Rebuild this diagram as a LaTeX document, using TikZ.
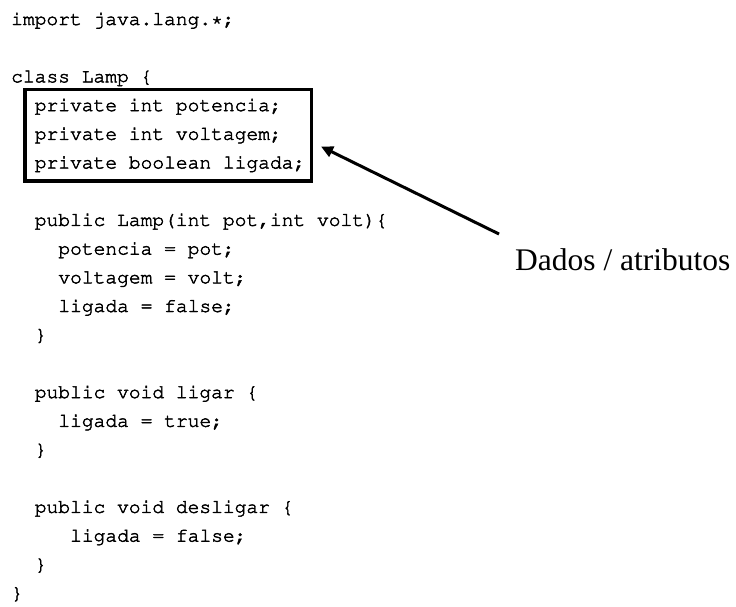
\documentclass[tikz,border=0pt]{standalone}
\usepackage[T1]{fontenc}
\usepackage{fontspec}
\setmainfont{Liberation Serif}
\usetikzlibrary{arrows.meta}
\newcommand{\cwfont}{\fontencoding{T1}\fontfamily{pcr}\fontseries{m}\fontshape{n}\fontsize{19.6}{22}\selectfont}
\newcommand{\thicktext}[1]{\special{pdf:literal direct 2 Tr 0.45 w}#1\special{pdf:literal direct 0 Tr}}
\tikzset{
  code/.style={anchor=base west, inner sep=0pt, font=\cwfont},
  lbl/.style={anchor=base west, inner sep=0pt, font=\fontsize{31.5}{36}\selectfont},
  frame/.style={draw=black, line width=3.6pt},
  pointer/.style={draw=black, line width=3pt, -{Triangle[length=12pt,width=11pt]}}
}
\begin{document}
\begin{tikzpicture}[x=1pt,y=-1pt]
\useasboundingbox (0,0) rectangle (736,606);
\def\lh{28.7}
\def\cw{11.79}
\def\ox{11}
\newcommand{\codeline}[4]{\node[code] (#1) at ({\ox+#2*\cw},{25+#3*\lh}) {\thicktext{#4}};}
\codeline{l0}{0}{0}{import java.lang.*;}
\codeline{l2}{0}{2}{class Lamp \{}
\codeline{l3}{2}{3}{private int potencia;}
\codeline{l4}{2}{4}{private int voltagem;}
\codeline{l5}{2}{5}{private boolean ligada;}
\codeline{l7}{2}{7}{public Lamp(int pot,int volt)\{}
\codeline{l8}{4}{8}{potencia = pot;}
\codeline{l9}{4}{9}{voltagem = volt;}
\codeline{l10}{4}{10}{ligada = false;}
\codeline{l11}{2}{11}{\}}
\codeline{l13}{2}{13}{public void ligar \{}
\codeline{l14}{4}{14}{ligada = true;}
\codeline{l15}{2}{15}{\}}
\codeline{l17}{2}{17}{public void desligar \{}
\codeline{l18}{5}{18}{ligada = false;}
\codeline{l19}{2}{19}{\}}
\codeline{l20}{0}{20}{\}}
% box around attributes
\node[frame, inner sep=0pt, minimum width=286.5pt, minimum height=91.5pt] (attrs) at (168.25,135.25) {};
% label
\node[lbl] (dados) at (515,270) {Dados / atributos};
\coordinate (tail) at (499,234);
\coordinate (tip) at (321,146.5);
\draw[pointer] (tail) -- (tip);
\end{tikzpicture}
\end{document}
